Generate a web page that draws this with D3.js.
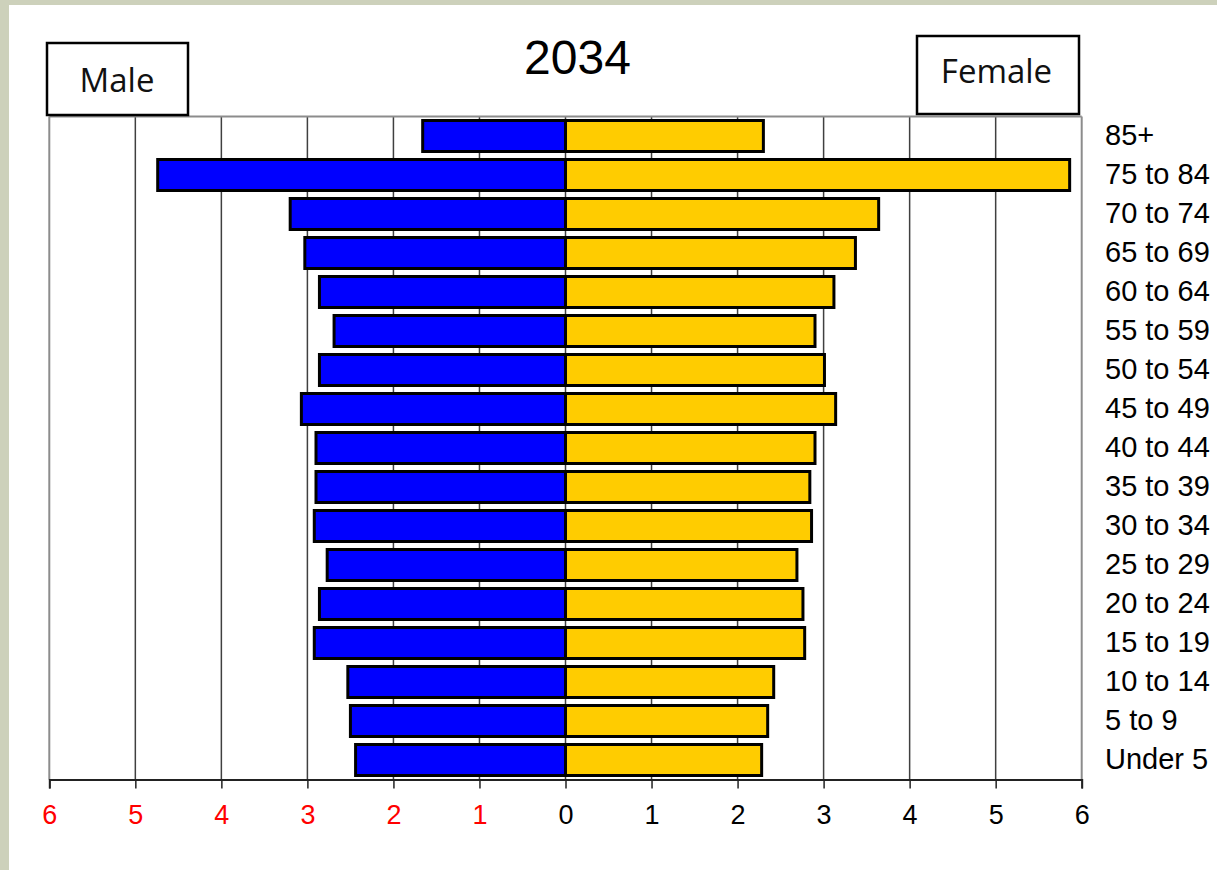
<!DOCTYPE html>
<html>
<head>
<meta charset="utf-8">
<script src="https://cdn.jsdelivr.net/npm/d3@7/dist/d3.min.js"></script>
<style>
  html, body { margin: 0; padding: 0; background: #cdd1bb; }
  svg { display: block; }
</style>
</head>
<body>
<svg id="chart" width="1217" height="870"></svg>
<script>
const title = "2034";
const categories = ["85+", "75 to 84", "70 to 74", "65 to 69", "60 to 64", "55 to 59", "50 to 54",
  "45 to 49", "40 to 44", "35 to 39", "30 to 34", "25 to 29", "20 to 24", "15 to 19",
  "10 to 14", "5 to 9", "Under 5"];
const maleValues = [1.66, 4.74, 3.20, 3.03, 2.86, 2.69, 2.86, 3.07, 2.90, 2.90, 2.92, 2.77, 2.86, 2.92, 2.53, 2.50, 2.44];
const femaleValues = [2.30, 5.86, 3.64, 3.37, 3.12, 2.90, 3.01, 3.14, 2.90, 2.84, 2.86, 2.69, 2.76, 2.78, 2.42, 2.35, 2.28];
const tickValues = [-6, -5, -4, -3, -2, -1, 0, 1, 2, 3, 4, 5, 6];
const legendLabels = ["Male", "Female"];

(function () {
const svg = d3.select("#chart");

// white page area
svg.append("rect").attr("x", 9).attr("y", 5).attr("width", 1208).attr("height", 865).attr("fill", "#ffffff");

const pLeft = 49.3, pRight = 1081.7, pTop = 116.5, pBottom = 779.5;
const x = d3.scaleLinear().domain([-6, 6]).range([pLeft, pRight]);
const y = d3.scaleBand().domain(categories).range([pTop, pBottom]).paddingInner(0.205).paddingOuter(0.1025);

// gridlines
const g = svg.append("g");
g.selectAll("line.grid").data(tickValues.filter(d => Math.abs(d) < 6)).enter().append("line")
  .attr("class", "grid")
  .attr("x1", d => x(d)).attr("x2", d => x(d))
  .attr("y1", pTop).attr("y2", pBottom)
  .attr("stroke", "#404040").attr("stroke-width", 1.5);

// plot border (top, left, right)
g.append("line").attr("x1", pLeft).attr("x2", pRight).attr("y1", pTop).attr("y2", pTop)
  .attr("stroke", "#8c8c8c").attr("stroke-width", 2);
g.append("line").attr("x1", pLeft).attr("x2", pLeft).attr("y1", pTop).attr("y2", pBottom)
  .attr("stroke", "#8c8c8c").attr("stroke-width", 2);
g.append("line").attr("x1", pRight).attr("x2", pRight).attr("y1", pTop).attr("y2", pBottom)
  .attr("stroke", "#8c8c8c").attr("stroke-width", 2);

// bars
const bars = svg.append("g");
bars.selectAll("rect.male").data(categories).enter().append("rect")
  .attr("class", "male")
  .attr("x", (d, i) => x(-maleValues[i]))
  .attr("width", (d, i) => x(0) - x(-maleValues[i]))
  .attr("y", d => y(d))
  .attr("height", y.bandwidth())
  .attr("fill", "#0000ff").attr("stroke", "#000").attr("stroke-width", 3);
bars.selectAll("rect.female").data(categories).enter().append("rect")
  .attr("class", "female")
  .attr("x", x(0))
  .attr("width", (d, i) => x(femaleValues[i]) - x(0))
  .attr("y", d => y(d))
  .attr("height", y.bandwidth())
  .attr("fill", "#ffcc00").attr("stroke", "#000").attr("stroke-width", 3);

// bottom axis
const axis = d3.axisBottom(x).tickValues(tickValues).tickFormat(d => Math.abs(d)).tickSize(9).tickPadding(16);
const ax = svg.append("g").attr("transform", `translate(0,${pBottom})`).call(axis);
ax.select(".domain").attr("stroke", "#222").attr("stroke-width", 2);
ax.selectAll(".tick line").attr("stroke", "#222").attr("stroke-width", 1.5);
ax.selectAll(".tick text")
  .attr("font-family", "'Liberation Sans', Arial, sans-serif")
  .attr("font-size", 27)
  .attr("fill", d => d < 0 ? "#ff0000" : "#000000");

// category labels on right
svg.append("g").selectAll("text").data(categories).enter().append("text")
  .attr("x", 1105)
  .attr("y", d => y(d) + y.bandwidth() / 2)
  .attr("dy", "0.3em")
  .attr("font-family", "'Liberation Sans', Arial, sans-serif")
  .attr("font-size", 29)
  .attr("fill", "#000")
  .text(d => d);

// title
svg.append("text").attr("x", 577.5).attr("y", 74).attr("text-anchor", "middle")
  .attr("font-family", "'Liberation Sans', Arial, sans-serif").attr("font-size", 48)
  .attr("fill", "#000").text(title);

// legend boxes
const boxes = [
  { label: legendLabels[0], x: 47, y: 43, w: 141, h: 72, tx: 117, ty: 92 },
  { label: legendLabels[1], x: 917, y: 36, w: 162, h: 78, tx: 996.5, ty: 83 }
];
boxes.forEach(b => {
  svg.append("rect").attr("x", b.x).attr("y", b.y).attr("width", b.w).attr("height", b.h)
    .attr("fill", "#fff").attr("stroke", "#000").attr("stroke-width", 2.5);
  svg.append("text").attr("x", b.tx).attr("y", b.ty).attr("text-anchor", "middle")
    .attr("font-family", "'Open Sans', sans-serif").attr("font-size", 33)
    .attr("fill", "#111").text(b.label);
});
})();
</script>
</body>
</html>
